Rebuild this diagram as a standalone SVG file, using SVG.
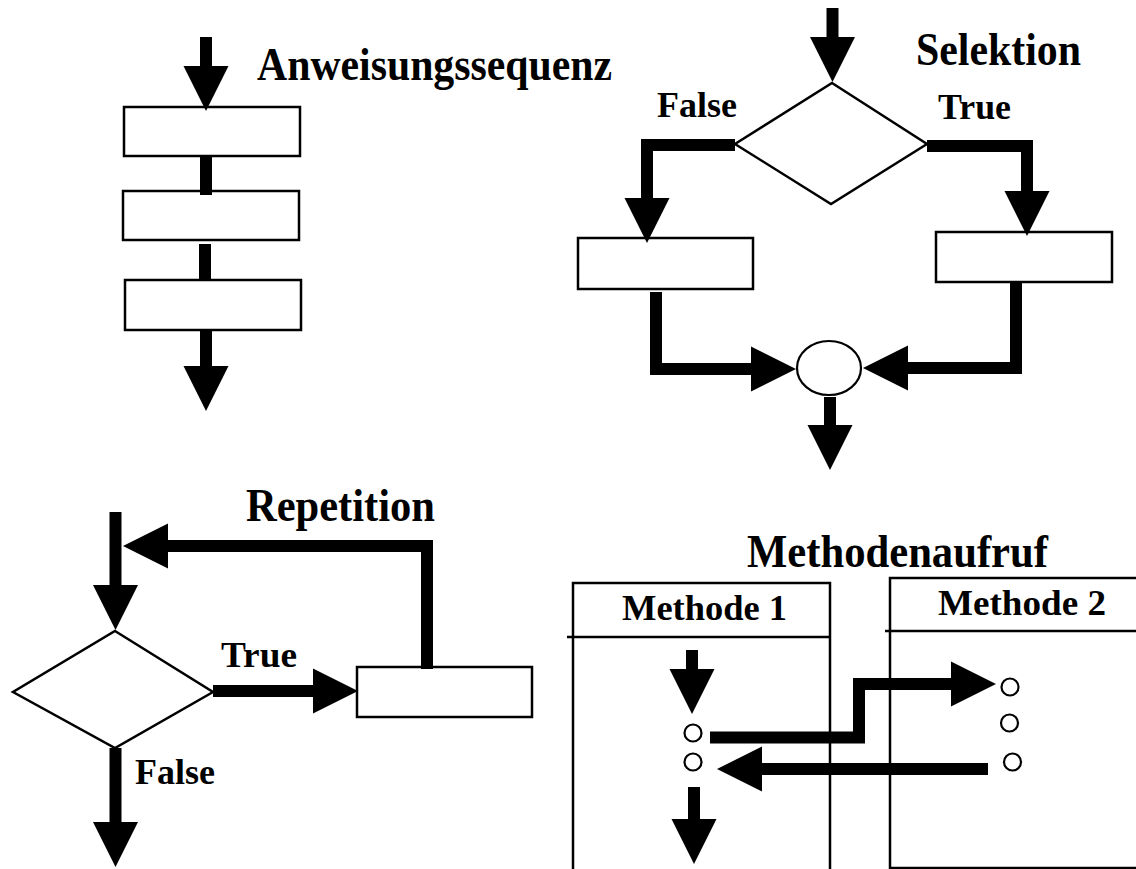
<svg xmlns="http://www.w3.org/2000/svg" width="1136" height="869" viewBox="0 0 1136 869">
  <style>
    .box { fill: #fff; stroke: #000; stroke-width: 2.5; }
    .thin { fill: none; stroke: #000; stroke-width: 2.5; }
    .dot { fill: #fff; stroke: #000; stroke-width: 2.2; }
    .flow { fill: none; stroke: #000; stroke-width: 12; stroke-linejoin: miter; stroke-linecap: butt; }
    .arrow { marker-end: url(#head); }
    .title { font-family: "Liberation Serif", "Times New Roman", serif; font-weight: bold; font-size: 46px; fill: #000; }
    .label { font-family: "Liberation Serif", "Times New Roman", serif; font-weight: bold; font-size: 36px; fill: #000; }
  </style>
  <defs>
    <marker id="head" markerUnits="userSpaceOnUse" markerWidth="46" markerHeight="46" refX="1" refY="22.5" orient="auto" overflow="visible">
      <path d="M0,0 L45,22.5 L0,45 Z" fill="#000"/>
    </marker>
  </defs>
  <rect width="1136" height="869" fill="#fff"/>

  <!-- Anweisungssequenz -->
  <g id="sequence-title"><text class="title" x="257" y="80" textLength="355" lengthAdjust="spacingAndGlyphs">Anweisungssequenz</text></g>
  <g id="seq-step1"><rect class="box" x="124" y="107" width="176" height="49"/></g>
  <g id="seq-step2"><rect class="box" x="123" y="191" width="176" height="49"/></g>
  <g id="seq-step3"><rect class="box" x="125" y="280" width="176" height="50"/></g>

  <!-- Selektion -->
  <g id="selection-title"><text class="title" x="916" y="65" textLength="165" lengthAdjust="spacingAndGlyphs">Selektion</text></g>
  <g id="sel-condition"><polygon class="thin" fill="#fff" points="832,83 927,144 831,204 735,144"/></g>
  <g id="sel-false-label"><text class="label" x="657" y="117" textLength="80" lengthAdjust="spacingAndGlyphs">False</text></g>
  <g id="sel-true-label"><text class="label" x="938" y="119" textLength="73" lengthAdjust="spacingAndGlyphs">True</text></g>
  <g id="sel-false-step"><rect class="box" x="578" y="238" width="175" height="51"/></g>
  <g id="sel-true-step"><rect class="box" x="936" y="232" width="176" height="50"/></g>

  <!-- Repetition -->
  <g id="repetition-title"><text class="title" x="246" y="521" textLength="189" lengthAdjust="spacingAndGlyphs">Repetition</text></g>
  <g id="rep-condition"><polygon class="thin" fill="#fff" points="115,631 213,692 115,748 13,692"/></g>
  <g id="rep-true-label"><text class="label" x="221" y="667" textLength="76" lengthAdjust="spacingAndGlyphs">True</text></g>
  <g id="rep-false-label"><text class="label" x="135" y="784" textLength="80" lengthAdjust="spacingAndGlyphs">False</text></g>
  <g id="rep-body"><rect class="box" x="357" y="667" width="175" height="50"/></g>

  <!-- Methodenaufruf -->
  <g id="call-title"><text class="title" x="747" y="567" textLength="301" lengthAdjust="spacingAndGlyphs">Methodenaufruf</text></g>
  <g id="method1">
    <polyline class="thin" points="573,880 573,583 830,583 830,880"/>
    <line class="thin" x1="567" y1="637" x2="830" y2="637"/>
    <text class="label" x="622" y="620" textLength="165" lengthAdjust="spacingAndGlyphs">Methode 1</text>
    <circle class="dot" cx="693" cy="733" r="8.5"/>
    <circle class="dot" cx="693" cy="762" r="8.5"/>
  </g>
  <g id="method2">
    <polyline class="thin" points="1140,578 890,578 890,868 1140,868"/>
    <line class="thin" x1="885" y1="631" x2="1140" y2="631"/>
    <text class="label" x="938" y="615" textLength="168" lengthAdjust="spacingAndGlyphs">Methode 2</text>
    <circle class="dot" cx="1010" cy="687" r="8.5"/>
    <circle class="dot" cx="1009.5" cy="723" r="8.5"/>
    <circle class="dot" cx="1012.5" cy="762" r="8.5"/>
  </g>

  <g id="sel-merge"><ellipse class="dot" cx="829" cy="368" rx="32" ry="27"/></g>

  <g id="connectors">
    <!-- sequence -->
    <line class="flow arrow" x1="206" y1="37" x2="206" y2="67"/>
    <line class="flow" x1="206" y1="157" x2="206" y2="195"/>
    <line class="flow" x1="205" y1="244" x2="205" y2="279"/>
    <line class="flow arrow" x1="206" y1="331" x2="206" y2="367"/>
    <!-- selection -->
    <line class="flow arrow" x1="832.5" y1="8" x2="832.5" y2="38"/>
    <polyline class="flow arrow" points="735,145 647,145 647,199"/>
    <polyline class="flow arrow" points="927,146 1027,146 1027,192"/>
    <polyline class="flow arrow" points="656,292 656,369 752,369"/>
    <polyline class="flow arrow" points="1016,283 1016,368 907,368"/>
    <line class="flow arrow" x1="830" y1="397" x2="830" y2="426"/>
    <!-- repetition -->
    <line class="flow arrow" x1="115.5" y1="512" x2="115.5" y2="586"/>
    <polyline class="flow arrow" points="427,669 427,546 167,546"/>
    <line class="flow arrow" x1="213" y1="691" x2="314" y2="691"/>
    <line class="flow arrow" x1="115.5" y1="748" x2="115.5" y2="823"/>
    <!-- method call -->
    <line class="flow arrow" x1="692" y1="650" x2="692" y2="670"/>
    <polyline class="flow arrow" points="710,737.5 859,737.5 859,684 952,684"/>
    <line class="flow arrow" x1="988" y1="769" x2="761" y2="769"/>
    <line class="flow arrow" x1="694" y1="787" x2="694" y2="820"/>
  </g>
</svg>
